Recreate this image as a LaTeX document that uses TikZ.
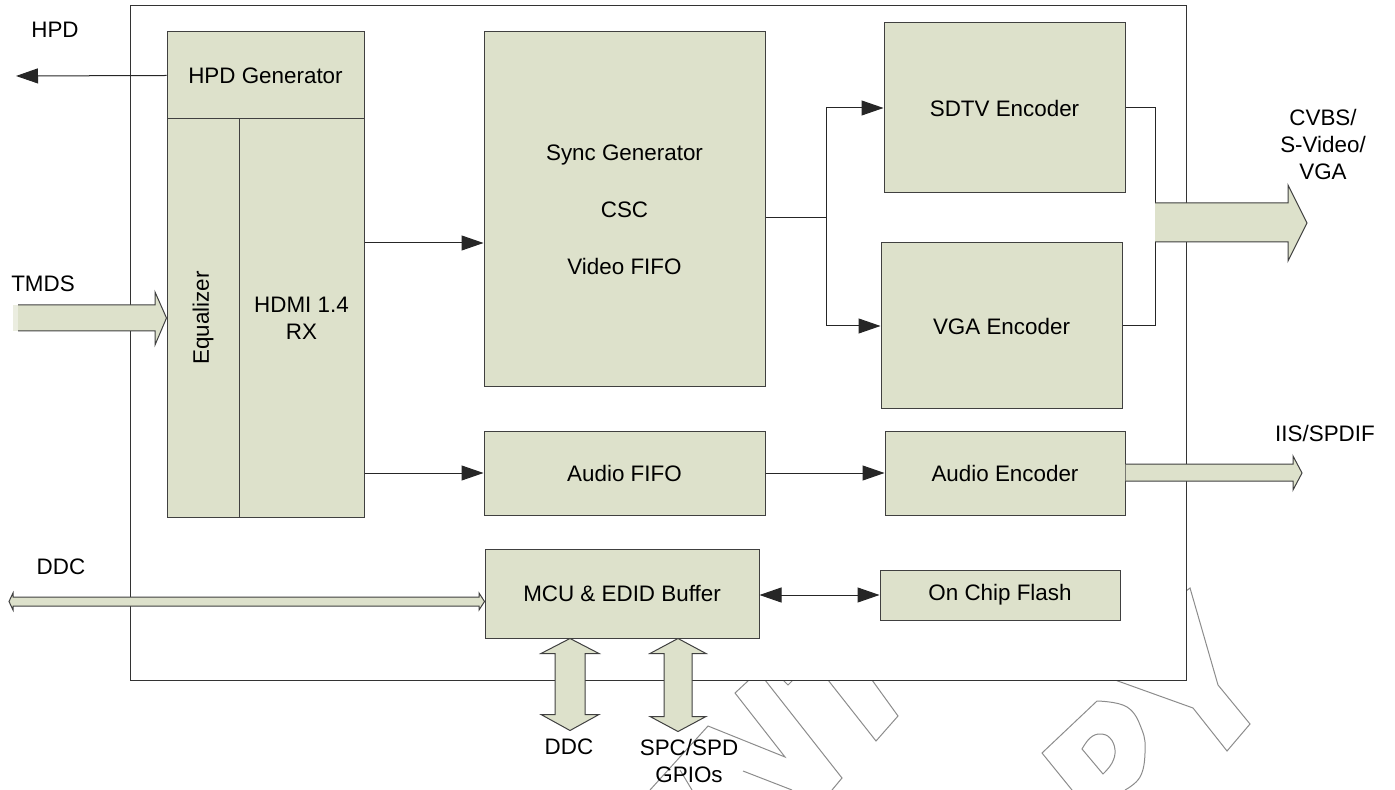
\documentclass[tikz,border=0pt]{standalone}
\usepackage{fontspec}
\setmainfont{Liberation Sans}
\usetikzlibrary{arrows.meta,calc}
\definecolor{boxfill}{HTML}{DDE1CB}
\tikzset{
  txt/.style={font=\fontsize{11.2}{13.5}\selectfont, align=center, inner sep=0pt},
  blk/.style={txt, draw=black!75, fill=boxfill, line width=0.5pt},
  fat/.style={draw=black!75, fill=boxfill, line width=0.5pt},
  wire/.style={draw=black!85, line width=0.5pt},
  tip/.style={wire, -{Triangle[length=11pt,width=7.5pt]}},
  tips/.style={wire, {Triangle[length=11pt,width=7.5pt]}-{Triangle[length=11pt,width=7.5pt]}},
  wmark/.style={draw=black!45, line width=0.5pt}
}
\begin{document}
\begin{tikzpicture}[x=0.5pt,y=-0.5pt]
              \useasboundingbox (0,0) rectangle (1395,790);
              \draw[wmark] (749,680) -- (735,693) -- (785,757) -- (708,726) -- (650,790);
              \draw[wmark] (765,680) -- (842,778) -- (832,790);
              \draw[wmark] (743,771) -- (792,790);
              \draw[wmark] (680,770) -- (692,790);
              \draw[wmark] (783,680) -- (788,685) -- (793,680);
              \draw[wmark] (828,680) -- (876,741) -- (898,716) -- (872,680);
              \draw[wmark] (1115,680) -- (1193,708) -- (1227,751) -- (1250,724) -- (1218,685) -- (1190,588) -- (1186,591);
              \draw[wmark] (1072,790) -- (1042,753) -- (1097,701) plot [smooth,tension=0.7] coordinates {(1097,701) (1127,707) (1142,730) (1145,753) (1140,777) (1125,790)};
              \draw[wmark] plot [smooth,tension=0.7] coordinates {(1082,749) (1090,738) (1100,734) (1110,738) (1115,750) (1112,763) (1103,774)} -- cycle;
              \draw[draw=black!80, fill=white, line width=0.5pt] (130,6) rectangle (1186,680);

              \node[blk, minimum width=98.5pt, minimum height=43.5pt] (hpd) at (265.5,75.5) {HPD Generator};
              \node[blk, minimum width=36pt, minimum height=199pt] (eq) at (203,318) {};
              \node[txt, rotate=90] (eqtxt) at (eq.center) {Equalizer};
              \node[blk, minimum width=62.5pt, minimum height=199pt] (rx) at (301.5,318) {HDMI 1.4\\RX};
              \node[blk, minimum width=140.5pt, minimum height=177.5pt] (sync) at (624.5,209.5) {Sync Generator\\[15pt]CSC\\[15pt]Video FIFO};
              \node[blk, minimum width=120.5pt, minimum height=85pt] (sdtv) at (1004.5,108) {SDTV Encoder};
              \node[blk, minimum width=120.5pt, minimum height=83pt] (vga) at (1001.5,326) {VGA Encoder};
              \node[blk, minimum width=140.5pt, minimum height=42pt] (afifo) at (624.5,473) {Audio FIFO};
              \node[blk, minimum width=120pt, minimum height=42pt] (aenc) at (1005,473) {Audio Encoder};
              \node[blk, minimum width=137pt, minimum height=44.5pt] (mcu) at (622,593.5) {MCU \& EDID Buffer};
              \node[blk, minimum width=120pt, minimum height=25pt] (flash) at (1000,595) {On Chip Flash};

              \node[txt] (hpdlbl) at (55,30) {HPD};
              \node[txt] (tmdslbl) at (43,284) {TMDS};
              \node[txt] (ddclbl) at (61,567) {DDC};
              \node[txt] (vidlbl) at (1323,144) {CVBS/\\S-Video/\\VGA};
              \node[txt] (audlbl) at (1325,433) {IIS/SPDIF};
              \node[txt] (ddcbot) at (569,747) {DDC};
              \node[txt] (gpiolbl) at (689,761) {SPC/SPD\\GPIOs};

              \coordinate (hpdout) at (16,76);
              \coordinate (vrow) at (0,243);
              \coordinate (split) at (826,218);
              \coordinate (join) at (1155,218);

              \draw[tip] (hpd.west) -- (hpdout);
              \draw[tip] (rx.east |- vrow) -- (sync.west |- vrow);
              \draw[wire] (split -| sync.east) -- (split);
              \draw[tip] (split) |- (sdtv.west);
              \draw[tip] (split) |- (vga.west);
              \draw[wire] (sdtv.east) -| (join) |- (vga.east);
              \draw[tip] (rx.east |- afifo.west) -- (afifo.west);
              \draw[tip] (afifo) -- (aenc);
              \draw[tips] (mcu.east |- flash.west) -- (flash.west);

              \fill[boxfill!60] (13,305) rectangle (18,331);
              \draw[fat] (18,305) -- (155,305) -- (155,292) -- (eq.west) -- (155,345) -- (155,331) -- (18,331);
              \draw[fat] (1155,203) -- (1288,203) -- (1288,185) -- (1307,223) -- (1288,261) -- (1288,242) -- (1155,242);
              \draw[fat] (aenc.east |- 0,464) -- (1293,464) -- (1293,456) -- (1302,473) -- (1293,490) -- (1293,481) -- (aenc.east |- 0,481);
              \draw[fat] (9,601.5) -- (13,593) -- (13,597) -- (479,597) -- (479,593) -- (mcu.west |- 0,601.5) -- (479,610) -- (479,606) -- (13,606) -- (13,610) -- cycle;
              \draw[fat] ($(mcu.south)+(-52,0)$) -- ++(29,15) -- ++(-14,0) -- ++(0,61) -- ++(14,0) -- ++(-29,16) -- ++(-29,-16) -- ++(14,0) -- ++(0,-61) -- ++(-14,0) -- cycle;
              \draw[fat] ($(mcu.south)+(56,0)$) -- ++(28,15) -- ++(-14,0) -- ++(0,63) -- ++(14,0) -- ++(-28,15) -- ++(-28,-15) -- ++(14,0) -- ++(0,-63) -- ++(-14,0) -- cycle;
        \end{tikzpicture}
\end{document}
